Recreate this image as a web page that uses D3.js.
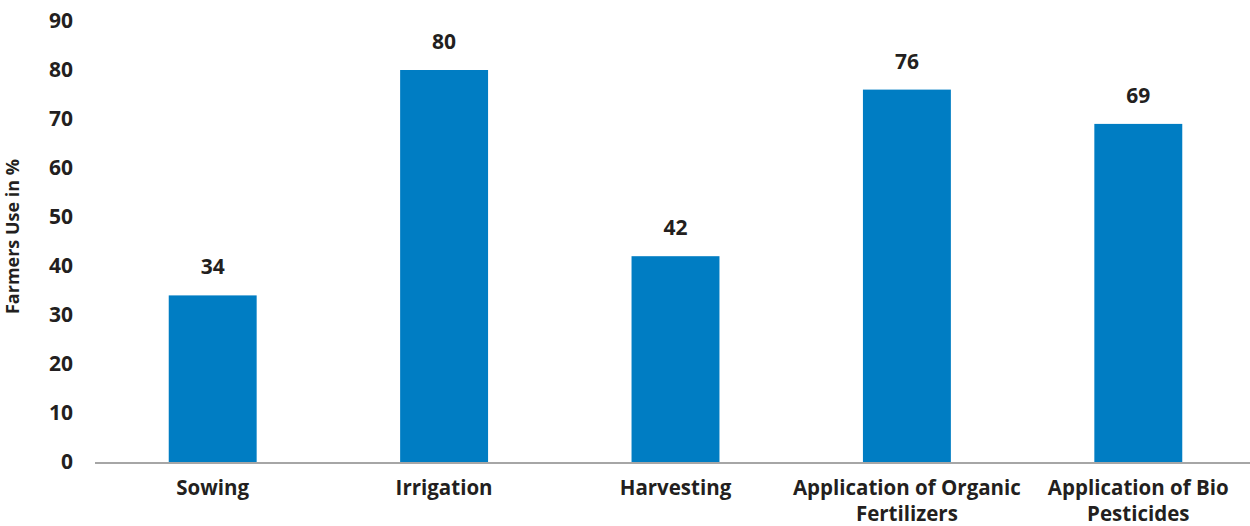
<!DOCTYPE html>
<html>
<head>
<meta charset="utf-8">
<script src="https://cdn.jsdelivr.net/npm/d3@7"></script>
<style>
  body { margin: 0; background: #fff; }
  text { font-family: 'Open Sans', Lato, sans-serif; font-weight: bold; fill: #231f20; }
</style>
</head>
<body>
<div id="chart"></div>
<script>
// data
const categories = ['Sowing', 'Irrigation', 'Harvesting', 'Application of Organic|Fertilizers', 'Application of Bio|Pesticides']
const values = [34, 80, 42, 76, 69]
const yTicks = [0, 10, 20, 30, 40, 50, 60, 70, 80, 90]

const W = 1250
const H = 526
const margin = { top: 21, right: -4, bottom: 64, left: 97 }
const width = W - margin.left - margin.right
const height = H - margin.top - margin.bottom

const svg = d3.select('#chart')
  .append('svg')
  .attr('width', W)
  .attr('height', H)
  .append('g')
  .attr('transform', 'translate(' + margin.left + ',' + margin.top + ')')

const x = d3.scaleBand()
  .domain(categories)
  .range([0, width])
  .paddingInner(0.62)
  .paddingOuter(0.31)

const y = d3.scaleLinear()
  .domain([0, 90])
  .range([height, 0])

// y tick labels, no axis line
svg.append('g')
  .selectAll('text')
  .data(yTicks)
  .enter()
  .append('text')
  .attr('x', -24)
  .attr('y', d => y(d))
  .attr('dy', '0.35em')
  .attr('text-anchor', 'end')
  .style('font-size', '21px')
  .text(d => d)

svg.append('text')
  .attr('transform', 'rotate(-90)')
  .attr('x', -(y(45)) + 5)
  .attr('y', -78)
  .attr('text-anchor', 'middle')
  .style('font-size', '18px')
  .text('Farmers Use in %')

// bars
svg.selectAll('.bar')
  .data(values)
  .enter()
  .append('rect')
  .attr('class', 'bar')
  .attr('x', (d, i) => x(categories[i]))
  .attr('y', d => y(d))
  .attr('width', x.bandwidth())
  .attr('height', d => height - y(d))
  .attr('fill', '#007dc3')

// value labels
svg.selectAll('.val')
  .data(values)
  .enter()
  .append('text')
  .attr('class', 'val')
  .attr('x', (d, i) => x(categories[i]) + x.bandwidth() / 2)
  .attr('y', d => y(d) - 21)
  .attr('text-anchor', 'middle')
  .style('font-size', '21px')
  .text(d => d)

// x axis line
svg.append('line')
  .attr('x1', -2)
  .attr('x2', width + 10)
  .attr('y1', height + 1)
  .attr('y2', height + 1)
  .attr('stroke', '#a6a6a6')
  .attr('stroke-width', 2)

// category labels, two lines where needed
const lab = svg.selectAll('.cat')
  .data(categories)
  .enter()
  .append('text')
  .attr('class', 'cat')
  .attr('text-anchor', 'middle')
  .attr('x', d => x(d) + x.bandwidth() / 2)
  .attr('y', height + 33)
  .style('font-size', '20.5px')

lab.selectAll('tspan')
  .data(d => d.split('|').map(s => ({ s: s, cx: x(d) + x.bandwidth() / 2 })))
  .enter()
  .append('tspan')
  .attr('x', d => d.cx)
  .attr('dy', (d, i) => i === 0 ? 0 : 26)
  .text(d => d.s)
</script>
</body>
</html>
